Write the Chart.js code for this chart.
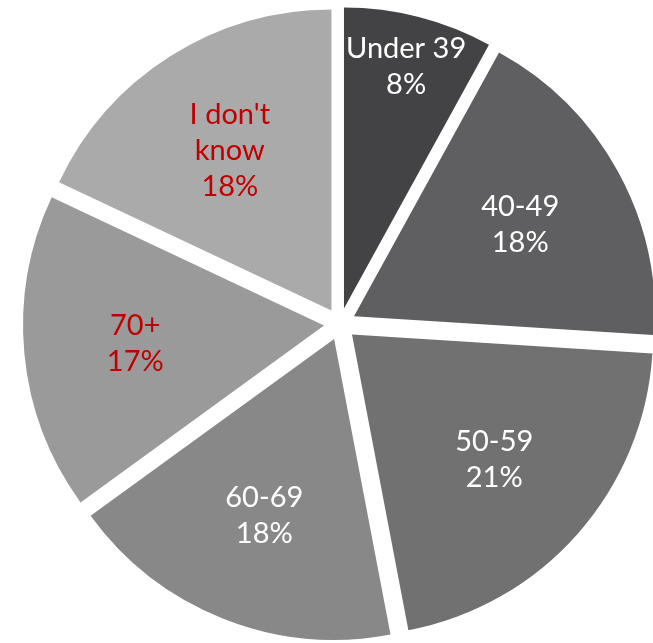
<!DOCTYPE html>
<html lang="en">
  <head>
    <meta charset="utf-8">
    <title>Age breakdown</title>
    <style>
      html, body {
        margin: 0;
        padding: 0;
        background: #ffffff;
        overflow: hidden;
      }
      .chart-box {
        width: 653px;
        height: 643px;
      }
    </style>
    <script src="https://cdn.jsdelivr.net/npm/chart.js@4.4.4/dist/chart.umd.min.js"></script>
  </head>
  <body>
    <div class="chart-box">
      <canvas id="age-pie"></canvas>
    </div>
    <script>
      // age groups, clockwise from 12 o'clock
      const categories = ['Under 39', '40-49', '50-59', '60-69', '70+', "I don't\nknow"];
      const shares = [8, 18, 21, 18, 17, 18];

      const sliceColors = ['#434345', '#5f5f61', '#717172', '#888888', '#9a9a9a', '#aaaaaa'];
      const textColors = ['#ffffff', '#ffffff', '#ffffff', '#ffffff', '#c00000', '#c00000'];

      const EXPLODE = 16;      // px each slice is pulled out from the centre
      const LINE_HEIGHT = 36;

      // draw each slice shifted outwards along its middle angle
      const explodePlugin = {
        id: 'explode',
        beforeDatasetDraw(chart, args) {
          const ctx = chart.ctx;
          args.meta.data.forEach(arc => {
            const mid = (arc.startAngle + arc.endAngle) / 2;
            ctx.save();
            ctx.translate(Math.cos(mid) * EXPLODE, Math.sin(mid) * EXPLODE);
            arc.draw(ctx);
            ctx.restore();
          });
          return false;
        }
      };

      const labelPlugin = {
        id: 'sliceLabels',
        afterDatasetsDraw(chart) {
          const ctx = chart.ctx;
          const meta = chart.getDatasetMeta(0);
          ctx.save();
          ctx.font = '29px Lato';
          ctx.textAlign = 'center';
          ctx.textBaseline = 'middle';
          meta.data.forEach((arc, i) => {
            const mid = (arc.startAngle + arc.endAngle) / 2;
            const share = arc.circumference / (2 * Math.PI);
            // thin slices get their label pushed out towards the rim
            const r = EXPLODE + arc.outerRadius * (share < 0.1 ? 0.83 : 0.63);
            const x = arc.x + Math.cos(mid) * r;
            const y = arc.y + Math.sin(mid) * r;
            const lines = categories[i].split('\n').concat([shares[i] + '%']);
            const top = y - (lines.length - 1) * LINE_HEIGHT / 2;
            ctx.fillStyle = textColors[i];
            lines.forEach((line, j) => {
              ctx.fillText(line, x, top + j * LINE_HEIGHT);
            });
          });
          ctx.restore();
        }
      };

      new Chart(document.getElementById('age-pie'), {
        type: 'pie',
        data: {
          labels: categories,
          datasets: [{
            data: shares,
            backgroundColor: sliceColors,
            borderWidth: 0,
            hoverOffset: 0
          }]
        },
        options: {
          responsive: true,
          maintainAspectRatio: false,
          animation: false,
          events: [],
          radius: 301,
          layout: {
            padding: { left: 27, right: 0, top: 5, bottom: 0 }
          },
          plugins: {
            legend: { display: false },
            tooltip: { enabled: false }
          }
        },
        plugins: [explodePlugin, labelPlugin]
      });
    </script>
  </body>
</html>
